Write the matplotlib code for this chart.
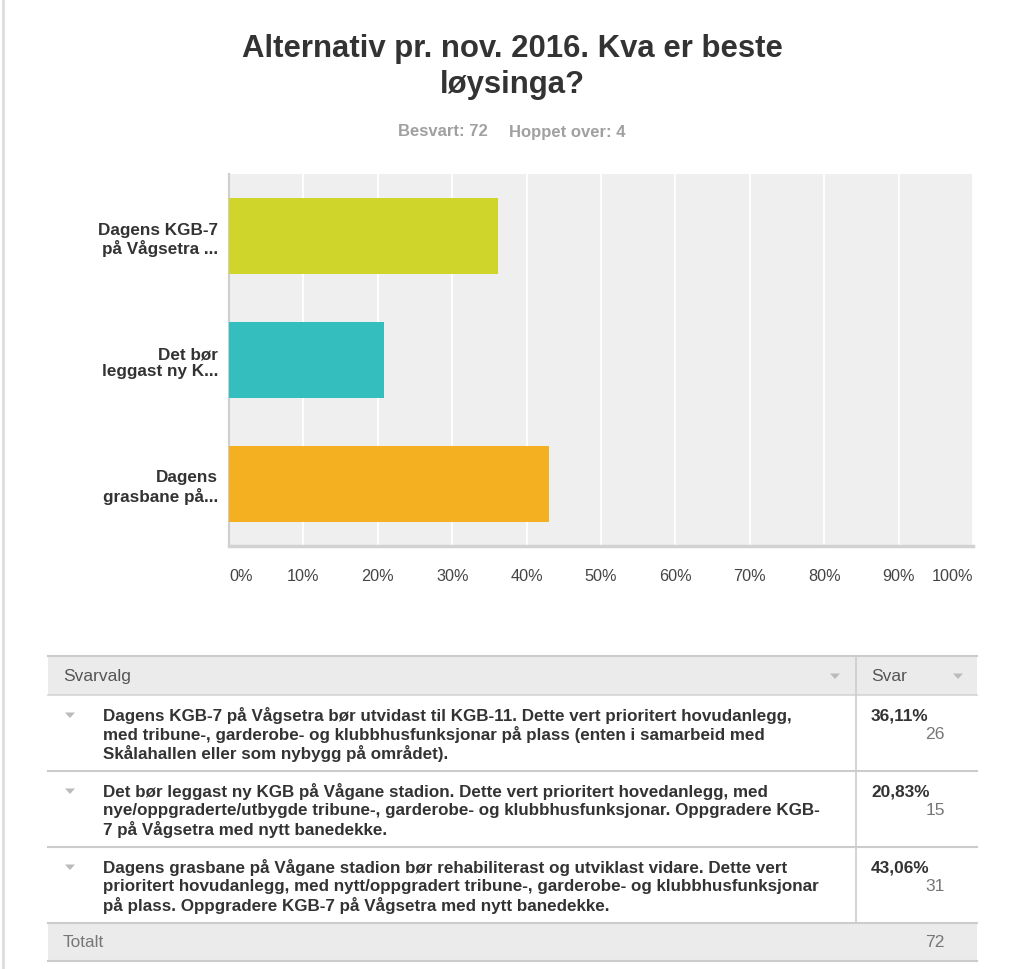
import numpy as np
import matplotlib
matplotlib.use("Agg")
from matplotlib import pyplot as plt
from matplotlib.patches import Rectangle, Polygon

plt.rcParams['font.family'] = ['Liberation Sans', 'DejaVu Sans']

# data
title = "Alternativ pr. nov. 2016. Kva er beste\nløysinga?"
answered = 72
skipped = 4
short_labels = ["Dagens KGB-7\npå Vågsetra ...", "Det bør\nleggast ny K...", "Dagens\ngrasbane på..."]
pct = [36.11, 20.83, 43.06]
counts = [26, 15, 31]
total = 72
bar_colors = ["#D0D52B", "#34BEBE", "#F5B021"]
xticks = list(range(0, 101, 10))
long_labels = [
    ["Dagens KGB-7 på Vågsetra bør utvidast til KGB-11. Dette vert prioritert hovudanlegg,",
     "med tribune-, garderobe- og klubbhusfunksjonar på plass (enten i samarbeid med",
     "Skålahallen eller som nybygg på området)."],
    ["Det bør leggast ny KGB på Vågane stadion. Dette vert prioritert hovedanlegg, med",
     "nye/oppgraderte/utbygde tribune-, garderobe- og klubbhusfunksjonar. Oppgradere KGB-",
     "7 på Vågsetra med nytt banedekke."],
    ["Dagens grasbane på Vågane stadion bør rehabiliterast og utviklast vidare. Dette vert",
     "prioritert hovudanlegg, med nytt/oppgradert tribune-, garderobe- og klubbhusfunksjonar",
     "på plass. Oppgradere KGB-7 på Vågsetra med nytt banedekke."],
]

W, H = 1024, 970
fig = plt.figure(figsize=(W / 100, H / 100), dpi=100)
fig.patch.set_facecolor("white")

# overlay in pixel coords
ov = fig.add_axes([0, 0, 1, 1])
ov.set_xlim(0, W)
ov.set_ylim(H, 0)
ov.axis("off")

# bar chart
ax = fig.add_axes([229 / W, 1 - 547 / H, 744 / W, 372 / H])
ax.set_facecolor("#EFEFEF")
y = np.arange(len(pct))
ax.barh(y, pct, height=0.62, color=bar_colors, zorder=3)
ax.set_xlim(0, 100)
ax.set_ylim(2.5, -0.5)
ax.set_xticks(xticks)
ax.xaxis.grid(True, color="white", linewidth=1.3, zorder=1)
ax.set_axisbelow(True)
for s in ["top", "right"]:
    ax.spines[s].set_visible(False)
ax.spines["left"].set_color("#CFCFCF")
ax.spines["left"].set_linewidth(1.5)
ax.spines["bottom"].set_color("#D2D2D2")
ax.spines["bottom"].set_linewidth(2.5)
ax.tick_params(axis="x", length=0, pad=16, labelsize=11.7, labelcolor="#444444")
ax.tick_params(axis="y", length=0, pad=8, labelsize=12.3, labelcolor="#333333")
ax.set_xticklabels([f"{t}%" for t in xticks])
labs = ax.get_xticklabels()
labs[0].set_ha("left")
labs[-1].set_ha("right")
ax.set_yticks(y)
ax.set_yticklabels(short_labels, fontweight="bold", linespacing=1.15)

# title
ov.text(512, 67, title, ha="center", va="center", fontsize=22.4, fontweight="bold",
        color="#333333", linespacing=1.27)
ov.text(488, 132, f"Besvart: {answered}", ha="right", va="center", fontsize=12,
        fontweight="bold", color="#A0A0A0")
ov.text(509, 132, f"Hoppet over: {skipped}", ha="left", va="center", fontsize=12,
        fontweight="bold", color="#A0A0A0")

# left page border
ov.plot([3, 3], [0, H], color="#DDDDDD", linewidth=2)

# table
tx0, tx1, tsep = 48, 977, 856
head_top, head_bot = 657, 696
row_h = 76
ov.add_patch(Rectangle((tx0, head_top), tx1 - tx0, head_bot - head_top, facecolor="#EBEBEB",
                       edgecolor="none"))
tot_top = head_bot + row_h * len(pct)
ov.add_patch(Rectangle((tx0, tot_top), tx1 - tx0, 38, facecolor="#EBEBEB", edgecolor="none"))
ov.plot([tx0, tx1], [head_top, head_top], color="#CCCCCC", linewidth=1.5)
ov.plot([tx0, tx1], [head_bot, head_bot], color="#D4D4D4", linewidth=1.2)
for i in range(len(pct)):
    yb = head_bot + row_h * (i + 1)
    ov.plot([tx0, tx1], [yb, yb], color="#CCCCCC", linewidth=1.5)
ov.plot([tx0, tx1], [tot_top + 38, tot_top + 38], color="#CCCCCC", linewidth=1.5)
ov.plot([tsep, tsep], [head_top, tot_top], color="#CCCCCC", linewidth=1.2)


def tri(x, yc, size=5, color="#BBBBBB"):
    ov.add_patch(Polygon([[x - size, yc - size * 0.5], [x + size, yc - size * 0.5], [x, yc + size * 0.6]],
                         closed=True, facecolor=color, edgecolor="none"))


ov.text(63, 677, "Svarvalg", ha="left", va="center", fontsize=12.5, color="#555555")
tri(835, 677)
ov.text(871, 677, "Svar", ha="left", va="center", fontsize=12.5, color="#555555")
tri(958, 677)

for i, lines in enumerate(long_labels):
    top = head_bot + row_h * i
    tri(70, top + 20)
    for j, ln in enumerate(lines):
        ov.text(103, top + 20 + 19 * j, ln, ha="left", va="center", fontsize=12.25,
                fontweight="bold", color="#333333")
    ov.text(871, top + 20, f"{pct[i]:.2f}%".replace(".", ","), ha="left", va="center",
            fontsize=12.4, fontweight="bold", color="#333333")
    ov.text(945, top + 39, str(counts[i]), ha="right", va="center", fontsize=12.6,
            color="#777777")

ov.text(63, tot_top + 19, "Totalt", ha="left", va="center", fontsize=12.4, color="#777777")
ov.text(945, tot_top + 19, str(total), ha="right", va="center", fontsize=12.6, color="#777777")

fig.savefig("out.png", dpi=100, facecolor="white")
